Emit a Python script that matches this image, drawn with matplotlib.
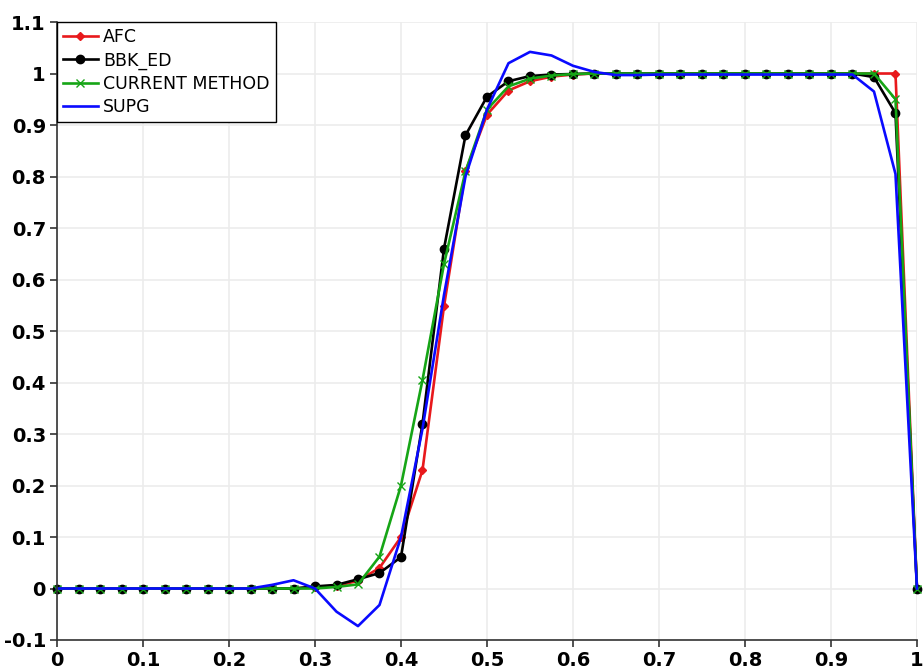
import matplotlib
matplotlib.use('Agg')
import numpy as np
import matplotlib.pyplot as plt
from matplotlib.ticker import FuncFormatter

# node positions (41 nodes, h = 0.025)
x = [0.0, 0.025, 0.05, 0.075, 0.1, 0.125, 0.15, 0.175, 0.2, 0.225,
     0.25, 0.275, 0.3, 0.325, 0.35, 0.375, 0.4, 0.425, 0.45, 0.475,
     0.5, 0.525, 0.55, 0.575, 0.6, 0.625, 0.65, 0.675, 0.7, 0.725,
     0.75, 0.775, 0.8, 0.825, 0.85, 0.875, 0.9, 0.925, 0.95, 0.975, 1.0]

afc = [0, 0, 0, 0, 0, 0, 0, 0, 0, 0,
       0, 0, 0.002, 0.005, 0.015, 0.04, 0.1, 0.23, 0.548, 0.81,
       0.92, 0.967, 0.985, 0.994, 0.998, 1.0, 1.0, 1.0, 1.0, 1.0,
       1.0, 1.0, 1.0, 1.0, 1.0, 1.0, 1.0, 1.0, 1.0, 1.0, 0.0]

bbk_ed = [0, 0, 0, 0, 0, 0, 0, 0, 0, 0,
          0, 0, 0.004, 0.007, 0.018, 0.03, 0.061, 0.32, 0.66, 0.88,
          0.955, 0.985, 0.995, 0.998, 0.999, 1.0, 1.0, 1.0, 1.0, 1.0,
          1.0, 1.0, 1.0, 1.0, 1.0, 1.0, 1.0, 1.0, 0.993, 0.923, 0.0]

current = [0, 0, 0, 0, 0, 0, 0, 0, 0, 0,
           0, 0, 0, 0.003, 0.008, 0.062, 0.2, 0.405, 0.63, 0.81,
           0.93, 0.975, 0.99, 0.996, 0.999, 1.0, 1.0, 1.0, 1.0, 1.0,
           1.0, 1.0, 1.0, 1.0, 1.0, 1.0, 1.0, 1.0, 1.0, 0.95, 0.0]

supg = [0, 0, 0, 0, 0, 0, 0, 0, 0, 0,
        0.007, 0.016, 0.0, -0.045, -0.073, -0.032, 0.1, 0.31, 0.57, 0.8,
        0.93, 1.02, 1.042, 1.035, 1.015, 1.003, 0.997, 0.997, 0.998, 0.998,
        0.998, 0.998, 0.998, 0.998, 0.998, 0.998, 0.998, 0.998, 0.965, 0.805, 0.0]

plt.rcParams['font.family'] = ['DejaVu Sans']

fig = plt.figure(figsize=(9.24, 6.71), dpi=100)
ax = fig.add_axes([0.0617, 0.0462, 0.9307, 0.9210])

ax.plot(x, afc, color='#e8191c', lw=1.9, marker='D', ms=4.5, label='AFC', clip_on=False)
ax.plot(x, bbk_ed, color='black', lw=1.9, marker='o', ms=6, label='BBK_ED', clip_on=False)
ax.plot(x, current, color='#16a516', lw=1.9, marker='x', ms=6, mew=1.0,
        label='CURRENT METHOD', clip_on=False)
ax.plot(x, supg, color='#0a0aff', lw=1.9, label='SUPG', clip_on=False)

ax.set_xlim(0, 1)
ax.set_ylim(-0.1, 1.1)
ax.set_xticks(np.arange(0, 1.01, 0.1))
ax.set_yticks(np.arange(-0.1, 1.11, 0.1))
fmt = FuncFormatter(lambda v, p: '%g' % round(v, 2))
ax.xaxis.set_major_formatter(fmt)
ax.yaxis.set_major_formatter(fmt)
ax.grid(True, color='#ececec', lw=1.2)
ax.set_axisbelow(True)

for s in ['top', 'right']:
    ax.spines[s].set_visible(False)
for s in ['left', 'bottom']:
    ax.spines[s].set_color('#333333')
    ax.spines[s].set_linewidth(1.2)
ax.tick_params(direction='out', length=5, width=1.2, color='#333333',
               labelsize=14, pad=3)
for lab in ax.get_xticklabels() + ax.get_yticklabels():
    lab.set_fontweight('bold')

leg = ax.legend(loc='upper left', fontsize=12.5, frameon=True, fancybox=False,
                edgecolor='black', framealpha=1, borderaxespad=0,
                handlelength=2.0, handletextpad=0.3, labelspacing=0.3,
                borderpad=0.35)
leg.get_frame().set_linewidth(1.0)

plt.savefig('out.png', dpi=100)
